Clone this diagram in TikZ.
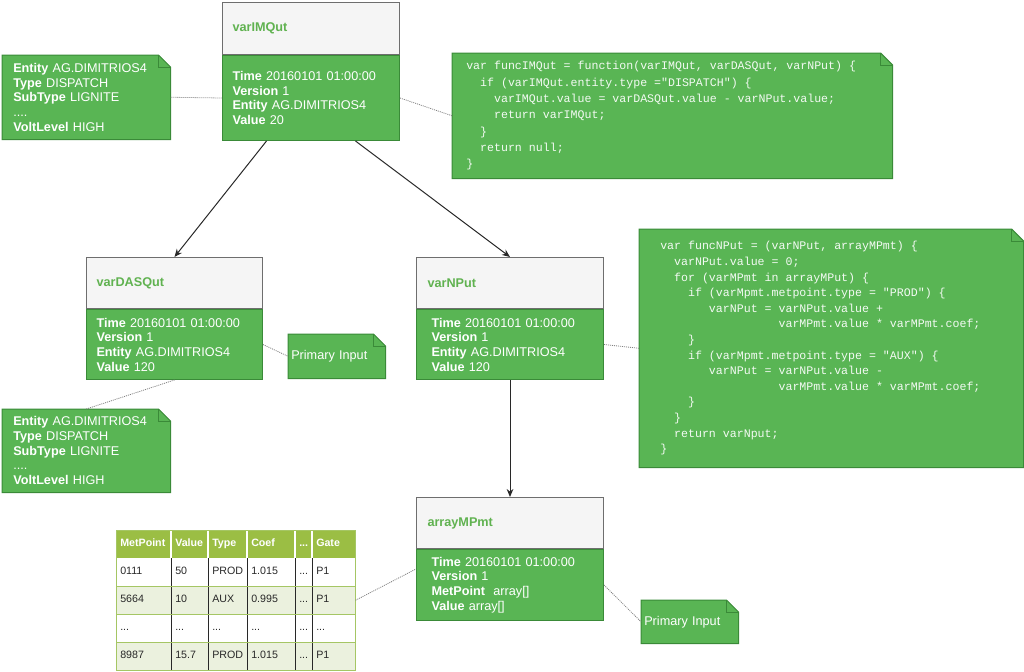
\documentclass[tikz,border=0pt]{standalone}
\usepackage{fontspec}
\setmainfont{Liberation Sans}
\setmonofont{Liberation Mono}
\usepackage{tikz}
\usetikzlibrary{
    positioning,
    arrows.meta,
    calc,
    matrix,
    backgrounds
}
\definecolor{NodeGreen}{RGB}{89,181,84}
\definecolor{EdgeGreen}{RGB}{58,138,56}
\definecolor{HeadFill}{RGB}{245,245,245}
\definecolor{HeadLine}{RGB}{110,110,110}
\definecolor{TitleGreen}{RGB}{96,178,80}
\definecolor{TabHead}{RGB}{155,190,68}
\definecolor{TabRow}{RGB}{235,241,222}
\definecolor{TabLine}{RGB}{165,198,100}
\definecolor{TextDark}{RGB}{40,40,40}

\newcommand{\ind}[1]{\hspace*{\dimexpr0.6em*#1\relax}}
\newcommand{\codesp}{\frenchspacing\spaceskip=0.6em\xspaceskip=0.6em\relax}
\newcommand{\drawnote}[1]{%
    \draw[fill=NodeGreen, draw=EdgeGreen, line width=0.75pt] (#1.north west) -- ([xshift=-9pt]#1.north east) -- ([yshift=-9pt]#1.north east) -- (#1.south east) -- (#1.south west) -- cycle;
    \draw[draw=EdgeGreen, line width=0.75pt] ([xshift=-9pt]#1.north east) |- ([yshift=-9pt]#1.north east);}

\begin{document}
\begin{tikzpicture}[
            x=0.75pt, y=-0.75pt,
            font=\fontsize{9.5}{11}\selectfont,
            >=Stealth,
            header/.style={rectangle, draw=HeadLine, fill=HeadFill, line width=0.75pt, anchor=north west, align=left, inner ysep=0pt, font=\fontsize{9.5}{11}\selectfont\bfseries, text=TitleGreen},
            body/.style={rectangle, draw=EdgeGreen, fill=NodeGreen, line width=0.75pt, anchor=north west, align=left, inner ysep=0pt, text=white},
            notebox/.style={rectangle, anchor=north west, align=left, inner ysep=0pt, text=white},
            codebox/.style={notebox, text=white!93!NodeGreen, font=\ttfamily\fontsize{8.7}{12.2}\selectfont},
            cell/.style={rectangle, inner xsep=3pt, inner ysep=0pt, minimum height=21pt, text height=6pt, text depth=2pt, align=left, font=\fontsize{8}{9}\selectfont, text=TextDark},
            link/.style={draw=TextDark, line width=0.75pt, -{Stealth[length=6pt, width=5pt]}},
            dotlink/.style={draw=gray, line width=0.6pt, dash pattern=on 0.75pt off 0.75pt},
        ]
        \useasboundingbox (0,0) rectangle (1024,671);

        % ===== varIMQut =====
        \node[header, inner xsep=7.5pt, text width=117.75pt, minimum height=39pt] (imq) at (222,2) {varIMQut};
        \node[body, inner xsep=7.5pt, text width=117.75pt, minimum height=63.75pt] (imqb) at (imq.south west) {\textbf{Time} 20160101 01:00:00\\\textbf{Version} 1\\\textbf{Entity} AG.DIMITRIOS4\\\textbf{Value} 20};

        \node[notebox, inner xsep=8.25pt, text width=109.5pt, minimum height=63pt] (attr1) at (2,55) {\textbf{Entity} AG.DIMITRIOS4\\\textbf{Type} DISPATCH\\\textbf{SubType} LIGNITE\\....\\\textbf{VoltLevel} HIGH};

        \node[codebox, inner xsep=10.5pt, text width=309pt, minimum height=93.75pt] (code1) at (452,53) {\codesp var funcIMQut = function(varIMQut, varDASQut, varNPut) \{\\
\ind{2}if (varIMQut.entity.type ="DISPATCH") \{\\
\ind{4}varIMQut.value = varDASQut.value - varNPut.value;\\
\ind{4}return varIMQut;\\
\ind{2}\}\\
\ind{2}return null;\\
\}};

        % ===== varDASQut =====
        \node[header, inner xsep=7.5pt, text width=117pt, minimum height=38.25pt] (das) at (86,257) {varDASQut};
        \node[body, inner xsep=7.5pt, text width=117pt, minimum height=52.5pt] (dasb) at (das.south west) {\textbf{Time} 20160101 01:00:00\\\textbf{Version} 1\\\textbf{Entity} AG.DIMITRIOS4\\\textbf{Value} 120};

        \node[notebox, inner xsep=2.25pt, text width=68.25pt, minimum height=33pt] (prim1) at (288,334) {Primary Input};
        \node[notebox, inner xsep=8.25pt, text width=109.5pt, minimum height=62.25pt] (attr2) at (2,409) {\textbf{Entity} AG.DIMITRIOS4\\\textbf{Type} DISPATCH\\\textbf{SubType} LIGNITE\\....\\\textbf{VoltLevel} HIGH};

        % ===== varNPut =====
        \node[header, inner xsep=8.25pt, text width=123.75pt, minimum height=38.25pt] (nput) at (416,257) {varNPut};
        \node[body, inner xsep=11.25pt, text width=117.75pt, minimum height=52.5pt] (nputb) at (nput.south west) {\textbf{Time} 20160101 01:00:00\\\textbf{Version} 1\\\textbf{Entity} AG.DIMITRIOS4\\\textbf{Value} 120};

        \node[codebox, font=\ttfamily\fontsize{8.7}{11.7}\selectfont, inner xsep=15.75pt, text width=256.5pt, minimum height=178.5pt] (code2) at (639,229) {\codesp var funcNPut = (varNPut, arrayMPmt) \{\\
\ind{2}varNPut.value = 0;\\
\ind{2}for (varMPmt in arrayMPut) \{\\
\ind{4}if (varMpmt.metpoint.type = "PROD") \{\\
\ind{7}varNPut = varNPut.value +\\
\ind{17}varMPmt.value * varMPmt.coef;\\
\ind{4}\}\\
\ind{4}if (varMpmt.metpoint.type = "AUX") \{\\
\ind{7}varNPut = varNPut.value -\\
\ind{17}varMPmt.value * varMPmt.coef;\\
\ind{4}\}\\
\ind{2}\}\\
\ind{2}return varNput;\\
\}};

        % ===== arrayMPmt =====
        \node[header, inner xsep=8.25pt, text width=123.75pt, minimum height=38.25pt] (mpmt) at (416,497) {arrayMPmt};
        \node[body, inner xsep=11.25pt, text width=117.75pt, minimum height=53.25pt] (mpmtb) at (mpmt.south west) {\textbf{Time} 20160101 01:00:00\\\textbf{Version} 1\\\textbf{MetPoint}~ array[]\\\textbf{Value} array[]};

        \node[notebox, inner xsep=2.25pt, text width=68.25pt, minimum height=32.25pt] (prim2) at (641,600) {Primary Input};

        % ===== MetPoint table =====
        \matrix[matrix of nodes, anchor=north west, inner sep=0pt, column sep=0pt, row sep=0pt,
            nodes={cell},
            column 1/.style={nodes={text width=35.25pt}},
            column 2/.style={nodes={text width=21.75pt}},
            column 3/.style={nodes={text width=23.25pt}},
            column 4/.style={nodes={text width=30pt}},
            column 5/.style={nodes={text width=6.75pt}},
            column 6/.style={nodes={text width=26.25pt}},
            row 1/.style={nodes={fill=TabHead, text=white, font=\fontsize{8}{9}\selectfont\bfseries}},
            row 3/.style={nodes={fill=TabRow}},
            row 5/.style={nodes={fill=TabRow}},
        ] (tbl) at (116,530) {
            MetPoint & Value & Type & Coef & ... & Gate \\
            0111 & 50 & PROD & 1.015 & ... & P1 \\
            5664 & 10 & AUX & 0.995 & ... & P1 \\
            ... & ... & ... & ... & ... & ... \\
            8987 & 15.7 & PROD & 1.015 & ... & P1 \\
        };
        \foreach \c in {2,...,6} {
            \draw[white, line width=1pt] (tbl-1-\c.north west) -- (tbl-1-\c.south west);
            \draw[TextDark, line width=0.6pt] (tbl-2-\c.north west) -- (tbl-5-\c.south west);
        }
        \foreach \r in {3,4,5} {
            \draw[TabLine, line width=0.6pt] (tbl-\r-1.north west) -- (tbl-\r-6.north east);
        }
        \draw[TabLine, line width=0.75pt] (tbl.north west) rectangle (tbl.south east);

        % ===== note shapes =====
        \begin{scope}[on background layer]
            \foreach \n in {attr1,attr2,code1,code2,prim1,prim2} {
                \drawnote{\n}
            }
        \end{scope}

        % ===== connectors =====
        \draw[link] ($(imqb.south west)!0.25!(imqb.south east)$) -- (das.north);
        \draw[link] ($(imqb.south west)!0.75!(imqb.south east)$) -- (nput.north);
        \draw[link] (nputb.south) -- (mpmt.north);

        \draw[dotlink] (attr1.east) -- (imqb.west);
        \draw[dotlink] (imqb.east) -- (code1.west);
        \draw[dotlink] (dasb.east) -- (prim1.west);
        \draw[dotlink] (dasb.south) -- (attr2.north);
        \draw[dotlink] (nputb.east) -- (code2.west);
        \draw[dotlink] (tbl.east) -- ([yshift=12pt]mpmtb.west);
        \draw[dotlink] (mpmtb.east) -- (prim2.west);
\end{tikzpicture}
\end{document}
